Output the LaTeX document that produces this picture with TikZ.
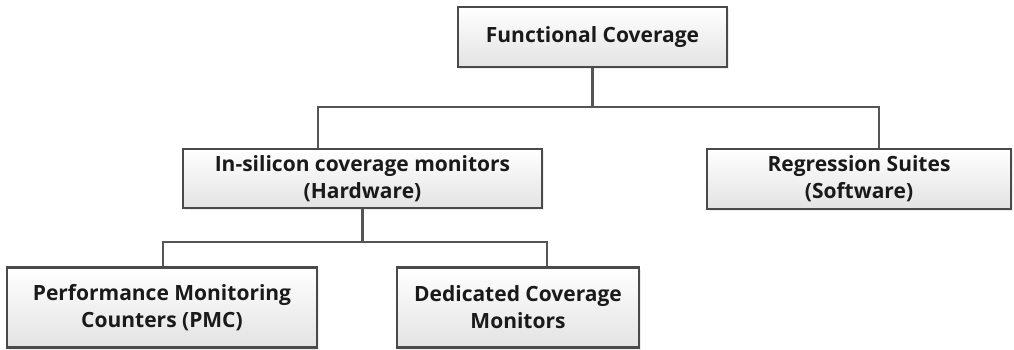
\documentclass[tikz,border=0pt]{standalone}
\usepackage{fontspec}
\setmainfont{Open Sans}
\usetikzlibrary{shadows}
\definecolor{boxline}{HTML}{4A4A4A}
\definecolor{connline}{HTML}{555555}
\definecolor{txt}{HTML}{1A1A1A}
\begin{document}
\begin{tikzpicture}[x=1pt,y=-1pt,
  box/.style={draw=boxline,line width=2.4pt,top color=white,bottom color=black!11,
    inner sep=0pt,align=center,text=txt,font=\fontsize{21}{27}\selectfont\bfseries,
    drop shadow={opacity=0.15,shadow xshift=2pt,shadow yshift=-2pt}},
  conn/.style={draw=connline,line width=2.4pt}]
\useasboundingbox (0,0) rectangle (1014,350);
\node[box,minimum width=269pt,minimum height=60pt] (top) at (592.5,37) {Functional Coverage};
\node[box,minimum width=359pt,minimum height=59pt] (mid) at (362.5,178.5) {In-silicon coverage monitors\\(Hardware)};
\node[box,minimum width=304pt,minimum height=60pt] (right) at (859,179) {Regression Suites\\(Software)};
\node[box,minimum width=310pt,minimum height=80pt] (pmc) at (162,307.5) {Performance Monitoring\\Counters (PMC)};
\node[box,minimum width=242pt,minimum height=80pt] (ded) at (518,307.5) {Dedicated Coverage\\Monitors};
\coordinate (j1) at (592.5,107);
\coordinate (j2) at (362.5,242);
\draw[conn] (top.south) -- (j1);
\draw[conn] ([xshift=-44.5pt]mid.north) |- (j1) -| ([xshift=20pt]right.north);
\draw[conn] (mid.south) -- (j2);
\draw[conn] ([xshift=1pt]pmc.north) |- (j2) -| ([xshift=29pt]ded.north);
\end{tikzpicture}
\end{document}
